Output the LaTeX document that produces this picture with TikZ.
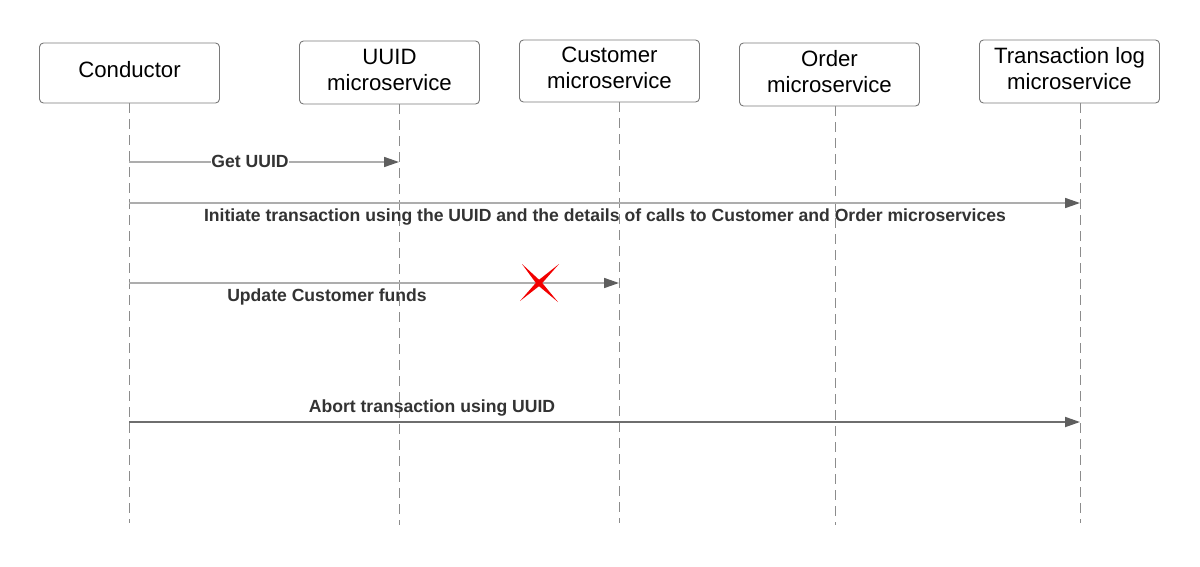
\documentclass[tikz,border=0pt]{standalone}
\usepackage{fontspec}
\setmainfont{Liberation Sans}
\usetikzlibrary{arrows.meta}
\definecolor{boxline}{HTML}{7A7A7A}
\definecolor{lifec}{HTML}{8C8C8C}
\definecolor{msgc}{HTML}{ADADAD}
\definecolor{tipc}{HTML}{5E5E5E}
\definecolor{txt}{HTML}{333333}
\definecolor{xred}{HTML}{F20000}
\begin{document}
\begin{tikzpicture}[x=1pt,y=-1pt,
  actor/.style={draw=boxline, line width=0.9pt, rounded corners=4pt, fill=white,
    minimum width=180pt, minimum height=62pt, inner sep=0pt},
  actortext/.style={align=center, text=black, inner sep=0pt,
    font=\fontsize{22.2}{26}\selectfont},
  life/.style={draw=lifec, line width=1pt, dash pattern=on 10pt off 6pt},
  msg/.style={draw=msgc, line width=1.6pt, -{Triangle[length=15pt,width=10pt,color=tipc]}},
  msgdark/.style={draw=tipc!80!msgc, line width=1.8pt, -{Triangle[length=15pt,width=10pt,color=tipc]}},
  lbl/.style={text=txt, font=\bfseries\fontsize{17.6}{20}\selectfont, inner sep=1pt}
]
\useasboundingbox (0,0) rectangle (1200,566);
\fill[white] (0,0) rectangle (1200,566);

% lifelines
\coordinate (cTop) at (129,103);   \coordinate (cBot) at (129,523);
\coordinate (uTop) at (399,104);   \coordinate (uBot) at (399,525);
\coordinate (kTop) at (619,102);   \coordinate (kBot) at (619,523);
\coordinate (oTop) at (835,106);   \coordinate (oBot) at (835,525);
\coordinate (tTop) at (1080,103);  \coordinate (tBot) at (1080,523);
\draw[life] (cTop) -- (cBot);
\draw[life] (uTop) -- (uBot);
\draw[life] (kTop) -- (kBot);
\draw[life] (oTop) -- (oBot);
\draw[life] (tTop) -- (tBot);

% actor boxes
\node[actor, minimum height=60pt] (cond) at (129.5,73) {};
\node[actor, minimum height=63pt] (uuid) at (389.5,72.5) {};
\node[actor, minimum height=62pt] (cust) at (609.5,71) {};
\node[actor, minimum height=63pt] (ord) at (829.5,74.5) {};
\node[actor, minimum height=63pt] (tlog) at (1069.5,71.5) {};
\node[actortext] (condT) at ([yshift=3pt]cond.center) {Conductor};
\node[actortext] (uuidT) at ([yshift=3pt]uuid.center) {UUID\\microservice};
\node[actortext] (custT) at ([yshift=3pt]cust.center) {Customer\\microservice};
\node[actortext] (ordT) at ([yshift=3pt]ord.center) {Order\\microservice};
\node[actortext] (tlogT) at ([yshift=3pt]tlog.center) {Transaction log\\microservice};

% messages
\coordinate (m1a) at (129,162); \coordinate (m1b) at (399,162);
\draw[msg] (m1a) -- (m1b);
\node[lbl, fill=white, inner sep=0.5pt] (l1) at (250,161) {Get UUID};

\coordinate (m2a) at (129,203); \coordinate (m2b) at (1080,203);
\draw[msg] (m2a) -- (m2b);
\node[lbl] (l2) at (605,217) {Initiate transaction using the UUID and the details of calls to Customer and Order microservices};

\coordinate (m3a) at (129,283); \coordinate (m3b) at (619,283);
\draw[msg] (m3a) -- (m3b);
\node[lbl] (l3) at (327,297) {Update Customer funds};

\coordinate (m4a) at (129,422); \coordinate (m4b) at (1080,422);
\draw[msgdark] (m4a) -- (m4b);
\node[lbl] (l4) at (432,408) {Abort transaction using UUID};

% red cross (tapered strokes)
\fill[xred] (520,301) -- (537.5,281) -- (559,264) -- (540.5,285) -- cycle;
\fill[xred] (522,264) -- (541,281.5) -- (558,302) -- (537,284.5) -- cycle;
\end{tikzpicture}
\end{document}
